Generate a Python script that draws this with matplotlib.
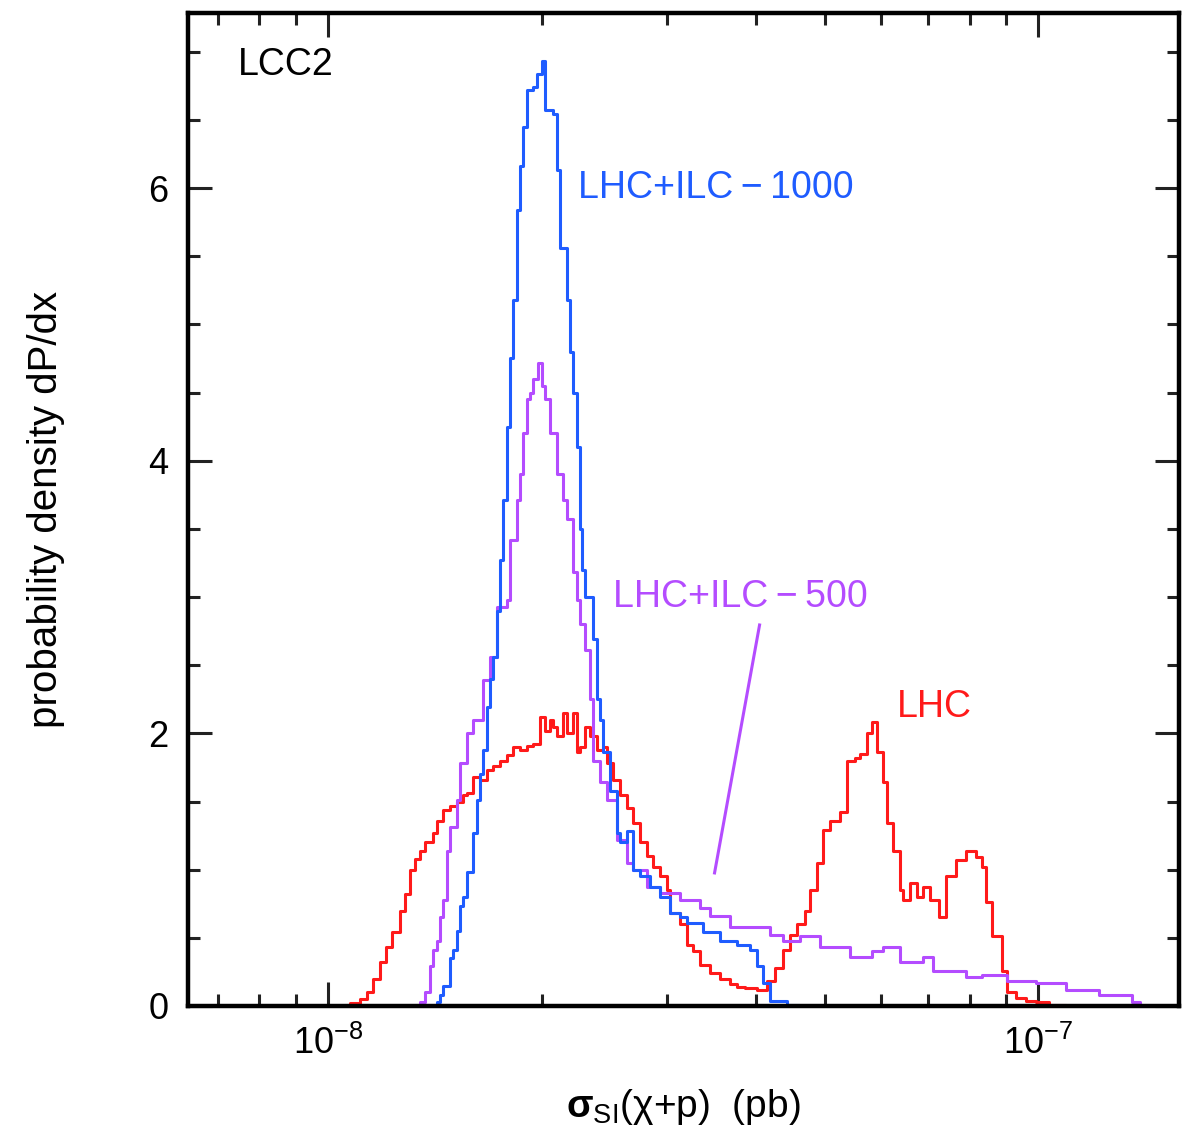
import matplotlib
matplotlib.use("Agg")
import matplotlib.pyplot as plt
from matplotlib.ticker import LogLocator, MultipleLocator, LogFormatterSciNotation, NullFormatter
import numpy as np

plt.rcParams['font.family'] = ['Liberation Sans', 'DejaVu Sans']
plt.rcParams['mathtext.fontset'] = 'custom'
plt.rcParams['mathtext.rm'] = 'Liberation Sans'
plt.rcParams['mathtext.it'] = 'Liberation Sans:italic'
plt.rcParams['mathtext.bf'] = 'Liberation Sans:bold'

# cross section in units of 1e-8 pb, step levels (probability density)
lhc_x = [1.05, 1.074, 1.109, 1.135, 1.157, 1.184, 1.207, 1.230, 1.263, 1.283,
         1.304, 1.326, 1.347, 1.369, 1.405, 1.423, 1.451, 1.484, 1.518, 1.548,
         1.568, 1.599, 1.636, 1.673, 1.706, 1.746, 1.785, 1.820, 1.862, 1.905,
         1.942, 1.987, 2.019, 2.052, 2.072, 2.099, 2.141, 2.168, 2.211, 2.239,
         2.261, 2.298, 2.335, 2.389, 2.436, 2.468, 2.516, 2.574, 2.633, 2.685,
         2.747, 2.810, 2.865, 2.931, 2.998, 3.027, 3.126, 3.198, 3.261, 3.336,
         3.446, 3.559, 3.677, 3.761, 3.860, 4.013, 4.145, 4.254, 4.366, 4.466,
         4.567, 4.688, 4.764, 4.873, 4.968, 5.082, 5.250, 5.370, 5.511, 5.601,
         5.730, 5.824, 5.919, 6.035, 6.114, 6.233, 6.376, 6.438, 6.586, 6.737,
         6.869, 7.027, 7.257, 7.423, 7.668, 7.921, 8.182, 8.343, 8.451, 8.617,
         8.901, 9.046, 9.313, 9.618, 9.936, 10.36, 10.95]
lhc_y = [0.0, 0.02, 0.05, 0.10, 0.20, 0.32, 0.43, 0.54, 0.70, 0.82,
         1.00, 1.08, 1.14, 1.20, 1.27, 1.36, 1.44, 1.47, 1.50, 1.55,
         1.56, 1.68, 1.66, 1.73, 1.76, 1.80, 1.84, 1.90, 1.88, 1.91,
         1.92, 2.12, 2.02, 2.10, 2.05, 1.98, 2.15, 2.00, 2.15, 1.86,
         1.90, 2.05, 1.98, 1.88, 1.90, 1.78, 1.66, 1.55, 1.45, 1.34,
         1.20, 1.10, 1.02, 0.95, 0.85, 0.68, 0.60, 0.45, 0.40, 0.30,
         0.24, 0.20, 0.16, 0.14, 0.13, 0.12, 0.18, 0.28, 0.41, 0.52,
         0.60, 0.70, 0.85, 1.05, 1.29, 1.36, 1.42, 1.80, 1.82, 1.85,
         2.00, 2.08, 1.86, 1.64, 1.34, 1.14, 0.85, 0.78, 0.90, 0.80,
         0.87, 0.78, 0.65, 0.95, 1.07, 1.14, 1.09, 1.02, 0.76, 0.51,
         0.26, 0.10, 0.06, 0.04, 0.03, 0.01, 0.0]

ilc1000_x = [1.40, 1.423, 1.437, 1.451, 1.484, 1.499, 1.518, 1.533, 1.548, 1.568,
             1.599, 1.620, 1.636, 1.652, 1.673, 1.690, 1.706, 1.729, 1.746, 1.763,
             1.785, 1.803, 1.820, 1.844, 1.862, 1.880, 1.905, 1.942, 1.967, 2.000,
             2.019, 2.072, 2.099, 2.120, 2.168, 2.190, 2.211, 2.239, 2.261, 2.280,
             2.298, 2.358, 2.389, 2.413, 2.436, 2.492, 2.549, 2.574, 2.633, 2.685,
             2.747, 2.838, 2.931, 3.027, 3.126, 3.198, 3.369, 3.559, 3.761, 3.923,
             4.013, 4.092, 4.186, 4.423, 4.60]
ilc1000_y = [0.0, 0.03, 0.08, 0.15, 0.35, 0.41, 0.55, 0.73, 0.80, 0.98,
             1.27, 1.51, 1.70, 1.88, 2.19, 2.40, 2.56, 2.90, 3.27, 3.71,
             4.25, 4.75, 5.18, 5.84, 6.16, 6.45, 6.72, 6.74, 6.84, 6.93,
             6.57, 6.54, 6.13, 5.56, 5.18, 4.80, 4.50, 4.10, 3.50, 3.20,
             3.00, 2.69, 2.25, 2.10, 1.86, 1.58, 1.27, 1.20, 1.28, 1.00,
             0.95, 0.87, 0.80, 0.68, 0.65, 0.61, 0.54, 0.48, 0.45, 0.41,
             0.29, 0.17, 0.04, 0.01, 0.0]

ilc500_x = [1.33, 1.347, 1.369, 1.392, 1.405, 1.423, 1.437, 1.451, 1.470, 1.484,
            1.518, 1.533, 1.568, 1.599, 1.652, 1.690, 1.729, 1.785, 1.803, 1.844,
            1.862, 1.880, 1.905, 1.923, 1.942, 1.974, 2.000, 2.019, 2.052, 2.099,
            2.141, 2.168, 2.211, 2.239, 2.261, 2.298, 2.335, 2.358, 2.413, 2.468,
            2.549, 2.633, 2.685, 2.810, 2.931, 3.126, 3.336, 3.446, 3.677, 3.923,
            4.186, 4.366, 4.612, 4.920, 5.423, 5.824, 6.035, 6.376, 6.869, 7.096,
            7.921, 8.343, 9.046, 9.936, 10.95, 12.18, 13.56, 13.9]
ilc500_y = [0.0, 0.03, 0.10, 0.29, 0.41, 0.48, 0.65, 0.78, 1.14, 1.31,
            1.51, 1.78, 2.00, 2.10, 2.39, 2.56, 2.93, 2.98, 3.42, 3.71,
            3.90, 4.20, 4.45, 4.50, 4.60, 4.72, 4.55, 4.45, 4.20, 3.90,
            3.71, 3.57, 3.18, 2.98, 2.80, 2.61, 2.25, 1.80, 1.64, 1.51,
            1.22, 1.05, 1.00, 0.87, 0.83, 0.78, 0.72, 0.66, 0.58, 0.58,
            0.52, 0.48, 0.51, 0.43, 0.36, 0.40, 0.43, 0.32, 0.36, 0.26,
            0.21, 0.23, 0.18, 0.17, 0.12, 0.08, 0.03, 0.0]

c_lhc = '#ff1a1a'
c_1000 = '#1f5cff'
c_500 = '#b44cff'

fig = plt.figure(figsize=(11.94, 11.34), dpi=100)
ax = fig.add_axes([0.1575, 0.1129, 0.830, 0.8757])

scale = 1e-8
ax.step(np.array(lhc_x) * scale, lhc_y, where='post', color=c_lhc, lw=2.2)
ax.step(np.array(ilc500_x) * scale, ilc500_y, where='post', color=c_500, lw=2.2)
ax.step(np.array(ilc1000_x) * scale, ilc1000_y, where='post', color=c_1000, lw=2.2)

ax.set_xscale('log')
ax.set_xlim(6.35e-9, 1.578e-7)
ax.set_ylim(0, 7.285)

ax.xaxis.set_major_locator(LogLocator(base=10, numticks=10))
ax.xaxis.set_major_formatter(LogFormatterSciNotation())
ax.xaxis.set_minor_locator(LogLocator(base=10, subs=np.arange(2, 10), numticks=20))
ax.xaxis.set_minor_formatter(NullFormatter())
ax.yaxis.set_major_locator(MultipleLocator(2))
ax.yaxis.set_minor_locator(MultipleLocator(0.5))

ax.tick_params(which='both', direction='in', top=True, right=True, width=2.2, colors='#222222')
ax.tick_params(which='major', length=17, labelsize=26, labelcolor='black')
ax.tick_params(which='minor', length=8.5)
ax.tick_params(axis='x', which='major', pad=14)
ax.tick_params(axis='y', which='major', pad=14)

for s in ax.spines.values():
    s.set_linewidth(3.2)
    s.set_color('black')

ax.set_ylabel('probability density dP/dx', fontsize=29)
ax.yaxis.set_label_coords(-0.124, 0.5)
ax.set_xlabel(r'$\mathbf{σ}_{\mathrm{SI}}$(χ+p)  (pb)', fontsize=28, labelpad=18)

ax.text(0.05, 0.948, 'LCC2', transform=ax.transAxes, fontsize=27, va='center', ha='left')
ax.text(2.247e-8, 6.0, 'LHC+ILC\u2009\u2212\u20091000', color=c_1000, fontsize=27, va='center', ha='left')
ax.text(2.518e-8, 3.0, 'LHC+ILC\u2009\u2212\u2009500', color=c_500, fontsize=27, va='center', ha='left')
ax.text(6.33e-8, 2.19, 'LHC', color=c_lhc, fontsize=27, va='center', ha='left')
ax.plot([4.05e-8, 3.50e-8], [2.795, 0.976], color=c_500, lw=2.2)

fig.savefig('out.png', dpi=100)
